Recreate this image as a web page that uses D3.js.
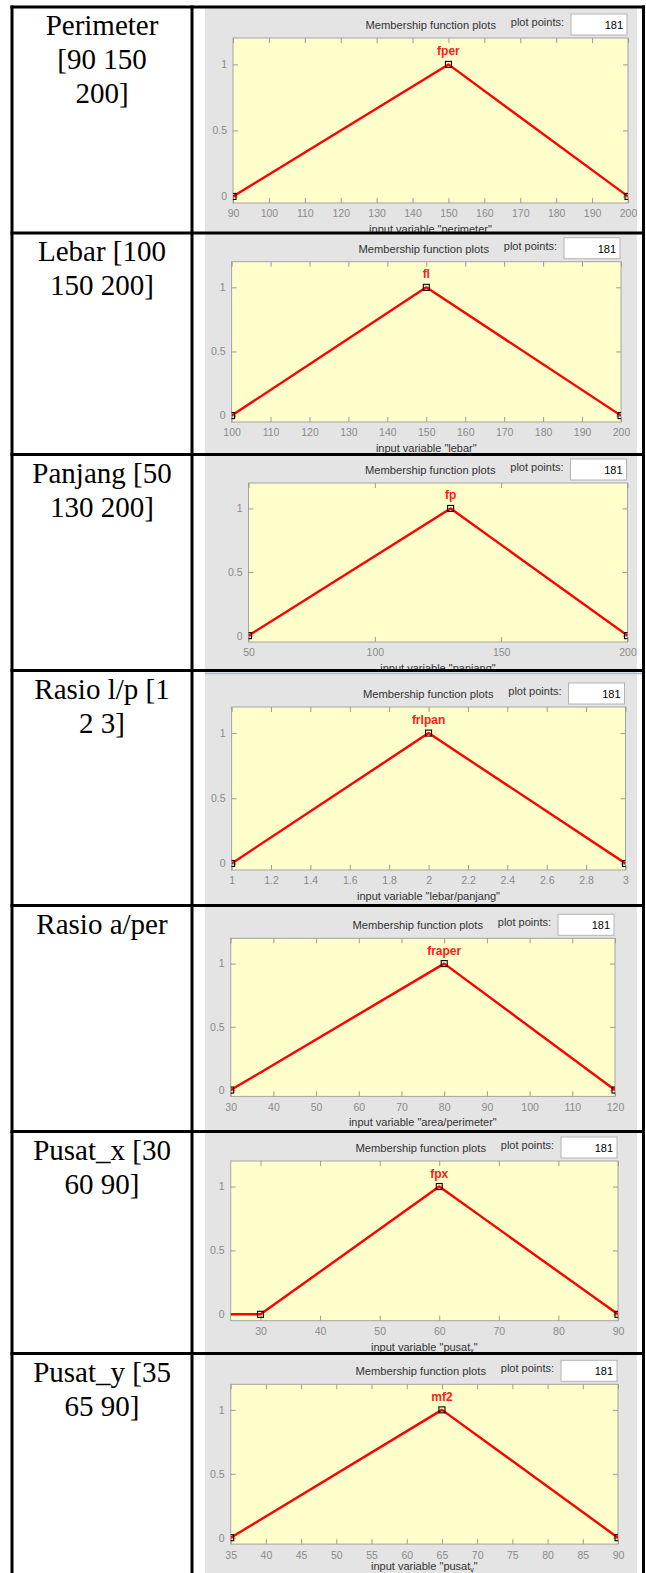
<!DOCTYPE html>
<html>
<head>
<meta charset="utf-8">
<script src="https://cdn.jsdelivr.net/npm/d3@7"></script>
<style>
  body { margin: 0; background: #fff; }
  svg { display: block; }
  .cell-text { font-family: "Liberation Serif", "Times New Roman", serif; font-size: 29px; fill: #000; }
  .ui { font-family: "Liberation Sans", Arial, sans-serif; }
  .tick text { font-family: "Liberation Sans", Arial, sans-serif; font-size: 10.5px; fill: #8a8a8a; }
  .tick line { stroke: #9a9a9a; }
</style>
</head>
<body>
<div id="chart"></div>
<script>
// left column text, one array of lines per row
const rowLabels = [
  ["Perimeter", "[90 150", "200]"],
  ["Lebar [100", "150 200]"],
  ["Panjang [50", "130 200]"],
  ["Rasio l/p [1", "2 3]"],
  ["Rasio a/per"],
  ["Pusat_x [30", "60 90]"],
  ["Pusat_y [35", "65 90]"]
];
const mfNames = ["fper", "fl", "fp", "frlpan", "fraper", "fpx", "mf2"];
const varNames = ["perimeter", "lebar", "panjang", "lebar/panjang", "area/perimeter", "pusat_x", "pusat_y"];
const xRanges = [[90, 200], [100, 200], [50, 200], [1, 3], [30, 120], [25, 90], [35, 90]];
const mfParams = [[90, 150, 200], [100, 150, 200], [50, 130, 200], [1, 2, 3], [30, 80, 120], [30, 60, 90], [35, 65, 90]];
const xTickValues = [
  [90, 100, 110, 120, 130, 140, 150, 160, 170, 180, 190, 200],
  [100, 110, 120, 130, 140, 150, 160, 170, 180, 190, 200],
  [50, 100, 150, 200],
  [1, 1.2, 1.4, 1.6, 1.8, 2, 2.2, 2.4, 2.6, 2.8, 3],
  [30, 40, 50, 60, 70, 80, 90, 100, 110, 120],
  [30, 40, 50, 60, 70, 80, 90],
  [35, 40, 45, 50, 55, 60, 65, 70, 75, 80, 85, 90]
];
const yTickValues = [0, 0.5, 1];
const yRange = [-0.05, 1.2];
const plotPoints = 181;

// layout
const W = 646, H = 1573;
const rowLines = [7, 233, 454.5, 670.5, 905.5, 1131.5, 1353.5];
const axesBoxes = [
  {l: 233, r: 628, t: 38, b: 203},
  {l: 231.6, r: 621, t: 261.7, b: 422},
  {l: 248.5, r: 627.5, t: 483, b: 642},
  {l: 231.6, r: 625.5, t: 707, b: 870},
  {l: 230.7, r: 615, t: 938.3, b: 1096.4},
  {l: 230.7, r: 618, t: 1161, b: 1320.7},
  {l: 230.7, r: 618, t: 1384.3, b: 1544.1}
];
const colL = 12, colMid = 192, colR = 643.5, panelL = 205, panelR = 637;

const svg = d3.select("#chart").append("svg")
  .attr("width", W).attr("height", H);

svg.append("rect").attr("width", W).attr("height", H).attr("fill", "#fff");

rowLabels.forEach((lines, i) => {
  const top = rowLines[i];
  const bottom = i + 1 < rowLines.length ? rowLines[i + 1] : H;
  const box = axesBoxes[i];

  // gray figure panel
  svg.append("rect")
    .attr("x", panelL).attr("y", top)
    .attr("width", panelR - panelL).attr("height", bottom - top)
    .attr("fill", "#e4e4e4");
  if (i === 3) {
    svg.append("line")
      .attr("x1", panelL).attr("x2", colR).attr("y1", top + 3).attr("y2", top + 3)
      .attr("stroke", "#a9bcd6").attr("stroke-width", 1.5);
  }

  // left cell text
  const t = svg.append("text").attr("class", "cell-text").attr("text-anchor", "middle");
  lines.forEach((s, k) => {
    t.append("tspan").attr("x", (colL + colMid) / 2).attr("y", top + 28 + k * 34).text(s);
  });

  // header
  const bx = box.r - 57, by = box.t - 24;
  svg.append("rect")
    .attr("x", bx).attr("y", by).attr("width", 56).attr("height", 21)
    .attr("fill", "#fff").attr("stroke", "#b4b4b4");
  svg.append("text").attr("class", "ui")
    .attr("x", bx + 52).attr("y", by + 15).attr("text-anchor", "end")
    .attr("font-size", 11).attr("fill", "#000").text(plotPoints);
  svg.append("text").attr("class", "ui")
    .attr("x", bx - 7).attr("y", by + 12).attr("text-anchor", "end")
    .attr("font-size", 11).attr("fill", "#333").text("plot points:");
  svg.append("text").attr("class", "ui")
    .attr("x", bx - 75).attr("y", by + 15).attr("text-anchor", "end")
    .attr("font-size", 11.2).attr("fill", "#333").text("Membership function plots");

  // axes
  const x = d3.scaleLinear().domain(xRanges[i]).range([box.l, box.r]);
  const y = d3.scaleLinear().domain(yRange).range([box.b, box.t]);

  svg.append("rect")
    .attr("x", box.l).attr("y", box.t)
    .attr("width", box.r - box.l).attr("height", box.b - box.t)
    .attr("fill", "#ffffcc").attr("stroke", "#a3a3a3");

  const gx = svg.append("g").attr("transform", `translate(0,${box.b})`)
    .call(d3.axisBottom(x).tickValues(xTickValues[i]).tickFormat(d => String(d))
      .tickSize(-5).tickPadding(7));
  const gxt = svg.append("g").attr("transform", `translate(0,${box.t})`)
    .call(d3.axisTop(x).tickValues(xTickValues[i]).tickFormat("").tickSize(-5));
  const gy = svg.append("g").attr("transform", `translate(${box.l},0)`)
    .call(d3.axisLeft(y).tickValues(yTickValues).tickFormat(d => String(d))
      .tickSize(-5).tickPadding(6));
  const gyr = svg.append("g").attr("transform", `translate(${box.r},0)`)
    .call(d3.axisRight(y).tickValues(yTickValues).tickFormat("").tickSize(-5));
  [gx, gxt, gy, gyr].forEach(g => {
    g.select(".domain").remove();
    g.selectAll("text").attr("font-size", null).attr("font-family", null);
  });

  // x label (last row sits at the bottom edge of the page)
  const xl = svg.append("text").attr("class", "ui")
    .attr("x", (box.l + box.r) / 2).attr("y", Math.min(box.b + 30, H - 3))
    .attr("text-anchor", "middle").attr("font-size", 11).attr("fill", "#333");
  const v = varNames[i];
  if (v.includes("_")) {
    const [a, b] = v.split("_");
    xl.append("tspan").text(`input variable "${a}`);
    xl.append("tspan").attr("font-size", 7).attr("dy", 2).text(b);
    xl.append("tspan").attr("dy", -2).text(`"`);
  } else {
    xl.text(`input variable "${v}"`);
  }

  // membership function
  const clipId = "clip" + i;
  svg.append("clipPath").attr("id", clipId).append("rect")
    .attr("x", box.l).attr("y", box.t)
    .attr("width", box.r - box.l).attr("height", box.b - box.t);
  const [a, b, c] = mfParams[i];
  const pts = [[xRanges[i][0], 0], [a, 0], [b, 1], [c, 0], [xRanges[i][1], 0]];
  const plot = svg.append("g").attr("clip-path", `url(#${clipId})`);
  plot.append("path")
    .attr("d", d3.line().x(d => x(d[0])).y(d => y(d[1]))(pts))
    .attr("fill", "none").attr("stroke", "#ff0000").attr("stroke-width", 2.4)
    .attr("stroke-linejoin", "round");
  plot.selectAll("rect.mk").data([[a, 0], [b, 1], [c, 0]]).enter()
    .append("rect").attr("class", "mk")
    .attr("x", d => x(d[0]) - 3).attr("y", d => y(d[1]) - 3)
    .attr("width", 6).attr("height", 6)
    .attr("fill", "none").attr("stroke", "#000").attr("stroke-width", 1.1);

  svg.append("text").attr("class", "ui")
    .attr("x", x(b)).attr("y", y(1) - 9)
    .attr("text-anchor", "middle").attr("font-size", 12).attr("font-weight", "bold")
    .attr("fill", "#ff1a1a").text(mfNames[i]);
});

// table borders on top
const border = svg.append("g").attr("stroke", "#000").attr("stroke-width", 3);
rowLines.forEach(yv => {
  border.append("line").attr("x1", colL - 1.5).attr("x2", colR + 1.5).attr("y1", yv).attr("y2", yv);
});
[colL, colMid, colR].forEach(xv => {
  border.append("line").attr("x1", xv).attr("x2", xv).attr("y1", rowLines[0] - 1.5).attr("y2", H);
});
</script>
</body>
</html>
